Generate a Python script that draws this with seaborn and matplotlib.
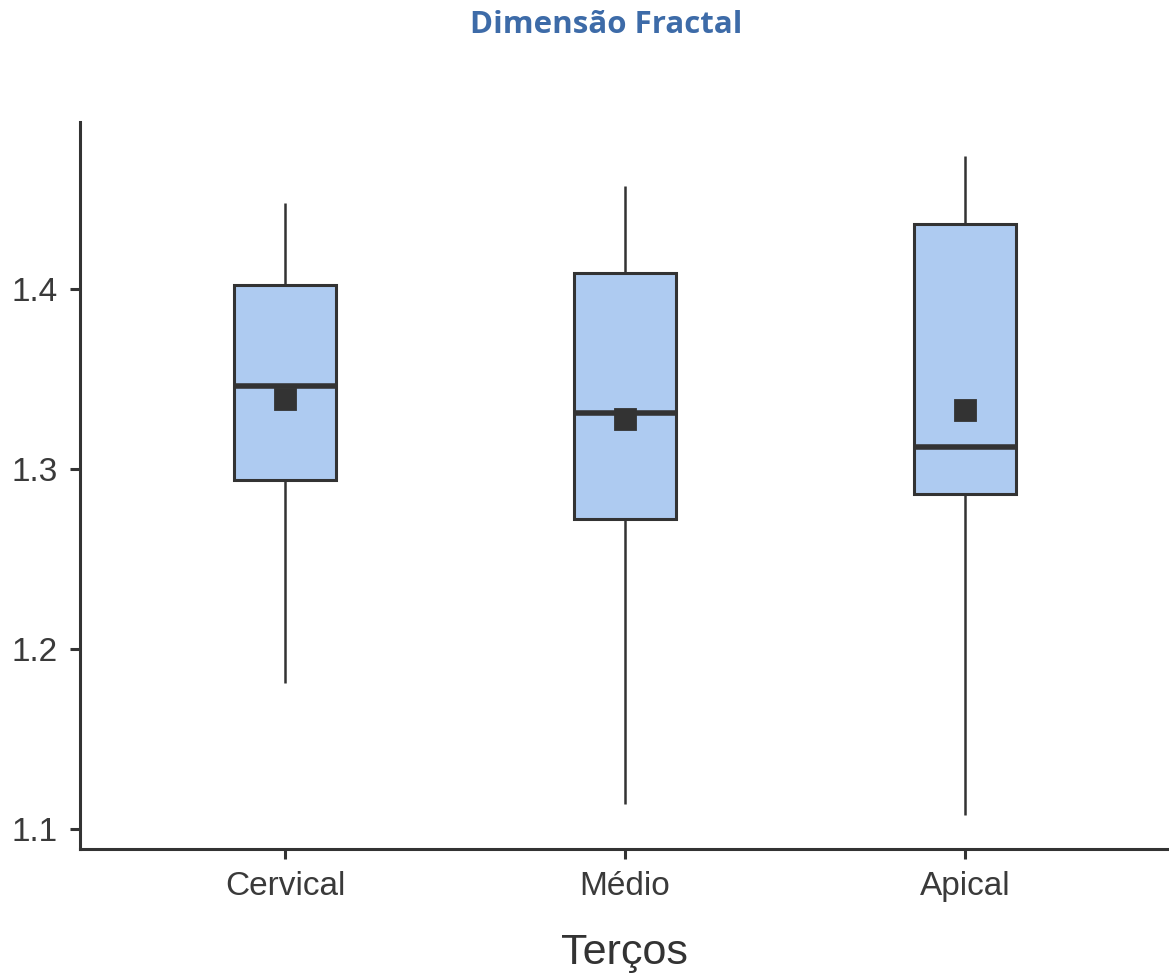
import numpy as np
import pandas as pd
import seaborn as sns
import matplotlib.pyplot as plt

# -------------------Data ---------------------------------------------
categories = ["Cervical", "Médio", "Apical"]
whisker_low = [1.181, 1.114, 1.108]
q1 = [1.294, 1.272, 1.286]
median = [1.346, 1.331, 1.312]
q3 = [1.402, 1.409, 1.436]
whisker_high = [1.448, 1.457, 1.474]
means = [1.339, 1.328, 1.333]

# five-number points per group, so the box stats land exactly on the read values
rows = []
for i, cat in enumerate(categories):
    for v in [whisker_low[i], q1[i], median[i], q3[i], whisker_high[i]]:
        rows.append({"Terços": cat, "value": v})
df = pd.DataFrame(rows)
df_mean = pd.DataFrame({"Terços": categories, "value": means})

# -------------------Plot --------------------
sns.set_style("ticks")
plt.rcParams['font.family'] = ['Liberation Sans', 'DejaVu Sans']

line_col = "#333333"
fig = plt.figure(figsize=(11.69, 9.77), dpi=100)
ax = fig.add_axes([80 / 1169, 128 / 977, 1089 / 1169, 727 / 977])

sns.boxplot(data=df, x="Terços", y="value", order=categories, whis=(0, 100),
            width=0.3, color="#aecbf1", saturation=1, linewidth=2.2,
            linecolor=line_col, showcaps=False,
            whiskerprops={"linewidth": 1.8}, medianprops={"linewidth": 4},
            ax=ax)
sns.pointplot(data=df_mean, x="Terços", y="value", order=categories,
              linestyle="none", marker="s", markersize=15, color=line_col,
              errorbar=None, ax=ax)

ax.set_xlim(-0.603, 2.6)
ax.set_ylim(1.0889, 1.4928)
ax.set_yticks([1.1, 1.2, 1.3, 1.4])
ax.set_yticklabels(["1.1", "1.2", "1.3", "1.4"])
ax.set_ylabel("")
ax.set_xlabel("Terços", fontsize=31, color="#333333", labelpad=22)
ax.tick_params(axis="both", labelsize=24, colors="#333333", width=2.2,
               length=7, pad=9, labelcolor="#3a3a3a")
for side in ["left", "bottom"]:
    ax.spines[side].set_linewidth(2.2)
    ax.spines[side].set_color(line_col)
sns.despine(ax=ax)

fig.text(606 / 1169, 1 - 25 / 977, "Dimensão Fractal", ha="center", va="center",
         fontsize=22.5, fontweight="bold", color="#3d6ba8",
         family=["Open Sans", "DejaVu Sans"])

plt.savefig("out.png", dpi=100)
plt.close()
